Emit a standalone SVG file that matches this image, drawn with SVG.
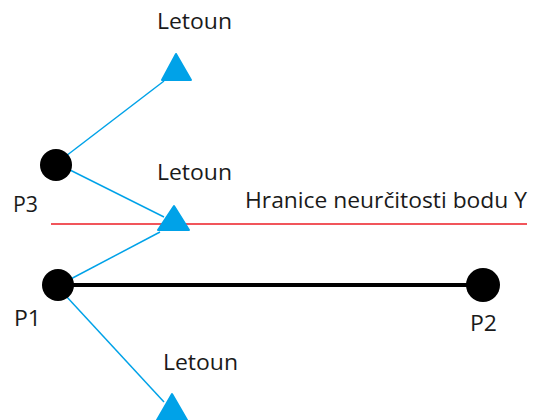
<svg xmlns="http://www.w3.org/2000/svg" width="537" height="420" viewBox="0 0 537 420">
  <style>
    .lbl { font-family: "Open Sans", "Noto Sans", "DejaVu Sans", sans-serif; font-size: 21px; fill: #1a1a1a; }
    .pt { fill: #000; }
    .plane { fill: #00a2e8; stroke: #00a2e8; stroke-width: 2; stroke-linejoin: round; }
    .ray { stroke: #00a2e8; stroke-width: 1.5; fill: none; }
  </style>
  <rect width="537" height="420" fill="#fff"/>

  <!-- uncertainty boundary -->
  <g id="boundary">
    <line x1="51" y1="224" x2="527" y2="224" stroke="#ed1c24" stroke-width="1.5"/>
    <text class="lbl" x="245" y="208" textLength="282" lengthAdjust="spacingAndGlyphs">Hranice neurčitosti bodu Y</text>
  </g>

  <g id="connectors">
    <line x1="59" y1="285" x2="483" y2="285" stroke="#000" stroke-width="4"/>
    <line class="ray" x1="66" y1="156" x2="164" y2="81"/>
    <line class="ray" x1="66" y1="168" x2="164" y2="217"/>
    <line class="ray" x1="65" y1="282" x2="160" y2="232"/>
    <line class="ray" x1="66" y1="296" x2="164" y2="402"/>
  </g>

  <g id="p3">
    <circle class="pt" cx="56" cy="165" r="16"/>
    <text class="lbl" x="13" y="212" textLength="25" lengthAdjust="spacingAndGlyphs">P3</text>
  </g>

  <g id="p1">
    <circle class="pt" cx="58" cy="285" r="16"/>
    <text class="lbl" x="14" y="326" textLength="27" lengthAdjust="spacingAndGlyphs">P1</text>
  </g>

  <g id="p2">
    <circle class="pt" cx="483" cy="285" r="17"/>
    <text class="lbl" x="470" y="331" textLength="27" lengthAdjust="spacingAndGlyphs">P2</text>
  </g>

  <g id="letoun-top">
    <polygon class="plane" points="176,54 191,80 162,80"/>
    <text class="lbl" x="157" y="29" textLength="75" lengthAdjust="spacingAndGlyphs">Letoun</text>
  </g>

  <g id="letoun-middle">
    <polygon class="plane" points="174,206 189,230 158,230"/>
    <text class="lbl" x="157" y="180" textLength="75" lengthAdjust="spacingAndGlyphs">Letoun</text>
  </g>

  <g id="letoun-bottom">
    <polygon class="plane" points="172,394 187,420 157,420"/>
    <text class="lbl" x="163" y="370" textLength="75" lengthAdjust="spacingAndGlyphs">Letoun</text>
  </g>
</svg>
